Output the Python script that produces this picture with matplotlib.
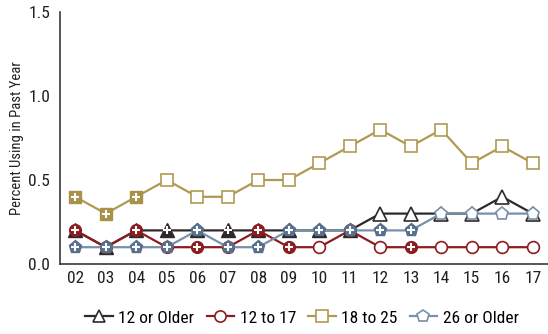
import matplotlib
matplotlib.use("Agg")
import matplotlib.pyplot as plt
from matplotlib.lines import Line2D
from matplotlib import font_manager
import numpy as np

available = {f.name for f in font_manager.fontManager.ttflist}
family = 'Liberation Sans'
for cand in ['Liberation Sans Narrow', 'Roboto Condensed', 'Open Sans Condensed', 'DejaVu Sans Condensed']:
    if cand in available:
        family = cand
        break
plt.rcParams['font.family'] = [family, 'DejaVu Sans']

years = ["02", "03", "04", "05", "06", "07", "08", "09", "10", "11", "12", "13", "14", "15", "16", "17"]
older12 = [0.2, 0.1, 0.2, 0.2, 0.2, 0.2, 0.2, 0.2, 0.2, 0.2, 0.3, 0.3, 0.3, 0.3, 0.4, 0.3]
older12_sig = [1, 1, 1, 1, 1, 1, 1, 1, 1, 1, 0, 0, 0, 0, 0, 0]
age12_17 = [0.2, 0.1, 0.2, 0.1, 0.1, 0.1, 0.2, 0.1, 0.1, 0.2, 0.1, 0.1, 0.1, 0.1, 0.1, 0.1]
age12_17_sig = [1, 1, 1, 1, 1, 1, 1, 1, 0, 1, 0, 1, 0, 0, 0, 0]
age18_25 = [0.4, 0.3, 0.4, 0.5, 0.4, 0.4, 0.5, 0.5, 0.6, 0.7, 0.8, 0.7, 0.8, 0.6, 0.7, 0.6]
age18_25_sig = [1, 1, 1, 0, 0, 0, 0, 0, 0, 0, 0, 0, 0, 0, 0, 0]
older26 = [0.1, 0.1, 0.1, 0.1, 0.2, 0.1, 0.1, 0.2, 0.2, 0.2, 0.2, 0.2, 0.3, 0.3, 0.3, 0.3]
older26_sig = [1, 1, 1, 1, 1, 1, 1, 1, 1, 1, 1, 1, 0, 0, 0, 0]

labels = ["12 or Older", "12 to 17", "18 to 25", "26 or Older"]
series = [older12, age12_17, age18_25, older26]
sigs = [older12_sig, age12_17_sig, age18_25_sig, older26_sig]
line_colors = ["#2e2a2b", "#8c1c1f", "#b09a52", "#7890a8"]
fill_colors = ["#2e2a2b", "#8c1c1f", "#a89148", "#56708e"]
markers = ["^", "o", "s", "p"]
msizes = [9.5, 8.5, 8.5, 9.5]
zorders = [3, 4, 2, 5]

fig = plt.figure(figsize=(5.48, 3.34), dpi=100)
ax = fig.add_axes([60/548, 1-264/334, 1-60/548, (264-12)/334])

x = np.arange(len(years))
for i in range(4):
    y = np.array(series[i])
    s = np.array(sigs[i], dtype=bool)
    z = zorders[i]
    ax.plot(x, y, color=line_colors[i], lw=1.6, zorder=z)
    ax.plot(x[~s], y[~s], ls='none', marker=markers[i], ms=msizes[i],
            mfc='white', mec=line_colors[i], mew=1.2, zorder=z + 0.1)
    ax.plot(x[s], y[s], ls='none', marker=markers[i], ms=msizes[i],
            mfc=fill_colors[i], mec=fill_colors[i], mew=1.0, zorder=z + 0.1)
    ax.plot(x[s], y[s], ls='none', marker='+', ms=5.5, mec='white', mew=1.5,
            zorder=z + 0.2)

ax.set_xlim(-0.5, len(years) - 0.5)
ax.set_ylim(0, 1.5)
ax.set_xticks(x)
ax.set_xticklabels(years)
ax.set_yticks([0.0, 0.5, 1.0, 1.5])
ax.set_yticklabels(["0.0", "0.5", "1.0", "1.5"])
ax.tick_params(axis='both', length=0, labelsize=12.5, colors='#231f20')
ax.tick_params(axis='x', pad=5)
ax.tick_params(axis='y', pad=7)
for sp in ['top', 'right']:
    ax.spines[sp].set_visible(False)
for sp in ['left', 'bottom']:
    ax.spines[sp].set_color('#3a3a3a')
    ax.spines[sp].set_linewidth(1.2)
ax.set_ylabel("Percent Using in Past Year", fontsize=10.5, color='#231f20')
ax.yaxis.set_label_coords(-0.074, 0.5)

handles = [Line2D([0], [0], color=line_colors[i], lw=1.6, marker=markers[i],
                  ms=msizes[i] * 0.95, mfc='white', mec=line_colors[i], mew=1.2)
           for i in range(4)]
fig.legend(handles, labels, loc='center', bbox_to_anchor=(302/548, 1-318/334),
           ncol=4, frameon=False, fontsize=12.5, handlelength=1.6,
           handletextpad=0.3, columnspacing=0.7)

fig.savefig("out.png", dpi=100)
